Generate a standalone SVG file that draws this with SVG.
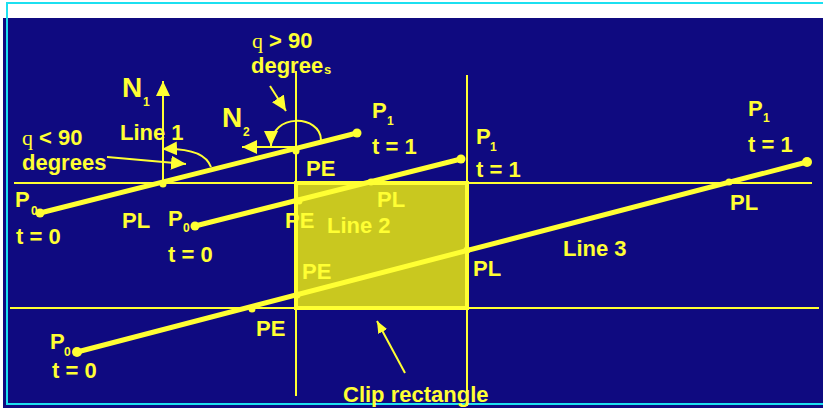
<svg xmlns="http://www.w3.org/2000/svg" width="823" height="408" viewBox="0 0 823 408">
  <defs>
    <style>
      .t { font-family: "Liberation Sans", Arial, sans-serif; font-weight: bold; font-size: 22px; fill: #FFFF33; }
      .sub { font-size: 12px; }
      .big { font-size: 28px; }
      .q { font-family: "Liberation Serif", "Times New Roman", serif; font-weight: normal; font-size: 22px; }
      .clip { stroke: #FFFF33; stroke-width: 2; fill: none; }
      .seg { stroke: #FFFF33; stroke-width: 5; fill: none; stroke-linecap: round; }
      .ptr { stroke: #FFFF33; stroke-width: 2; fill: none; }
      .end { fill: #FFFF33; }
    </style>
    <marker id="ah" markerUnits="userSpaceOnUse" markerWidth="16" markerHeight="14" refX="15" refY="7" orient="auto">
      <path d="M0,0 L15,7 L0,14 Z" fill="#FFFF33"/>
    </marker>
    <marker id="ahs" markerUnits="userSpaceOnUse" markerWidth="12" markerHeight="10" refX="12" refY="5" orient="auto">
      <path d="M0,0 L12,5 L0,10 Z" fill="#FFFF33"/>
    </marker>
  </defs>

  <!-- background and frame -->
  <rect x="0" y="0" width="823" height="408" fill="#FFFFFF"/>
  <rect x="3" y="18" width="820" height="390" fill="#0F0A80"/>
  <polyline points="823,3 7,3 7,404 823,404" fill="none" stroke="#1CE0F0" stroke-width="2"/>

  <!-- clip rectangle -->
  <g id="clip-rect">
    <rect x="296" y="183" width="171" height="125" fill="#C9C81F" stroke="#FFFF33" stroke-width="4"/>
    <line class="clip" x1="14" y1="183" x2="812" y2="183"/>
    <line class="clip" x1="10" y1="308" x2="819" y2="308"/>
    <line class="clip" x1="296" y1="71" x2="296" y2="396"/>
    <line class="clip" x1="467" y1="75" x2="467" y2="406"/>
  </g>

  <!-- connectors: segments, normals, angle arcs, pointers -->
  <g id="connectors">
    <line class="seg" x1="40" y1="213" x2="357" y2="133"/>
    <line class="seg" x1="195" y1="226" x2="461" y2="159"/>
    <line class="seg" x1="77" y1="352" x2="807" y2="162"/>

    <line class="ptr" x1="163" y1="183" x2="163" y2="81" marker-end="url(#ah)"/>
    <line class="ptr" x1="296" y1="147" x2="242" y2="147" marker-end="url(#ah)"/>

    <path class="ptr" d="M211,167 C206,153 188,148 162,149" marker-end="url(#ah)"/>
    <path class="ptr" d="M321,140 C321,115 271,112 271,146" marker-end="url(#ah)"/>

    <line class="ptr" x1="107" y1="157" x2="186" y2="164" marker-end="url(#ah)"/>
    <line class="ptr" x1="270" y1="86" x2="286" y2="111" marker-end="url(#ah)"/>
    <line class="ptr" x1="405" y1="373" x2="377" y2="321" marker-end="url(#ahs)"/>
  </g>

  <!-- endpoints and intersection points -->
  <g id="points">
    <circle class="end" cx="40" cy="213" r="4.5"/>
    <circle class="end" cx="357" cy="133" r="4.5"/>
    <circle class="end" cx="195" cy="226" r="4.5"/>
    <circle class="end" cx="461" cy="159" r="4.5"/>
    <circle class="end" cx="77" cy="352" r="5"/>
    <circle class="end" cx="807" cy="162" r="5"/>

    <circle class="end" cx="163" cy="184" r="3.5"/>
    <circle class="end" cx="296" cy="151" r="3.5"/>
    <circle class="end" cx="299" cy="201" r="3.5"/>
    <circle class="end" cx="371" cy="182" r="3.5"/>
    <circle class="end" cx="297" cy="295" r="3.5"/>
    <circle class="end" cx="252" cy="309" r="3.5"/>
    <circle class="end" cx="467" cy="250" r="3.5"/>
    <circle class="end" cx="729" cy="182" r="3.5"/>
  </g>

  <!-- labels -->
  <g id="labels">
    <text class="t" x="252" y="48"><tspan class="q">q</tspan> &gt; 90</text>
    <text class="t" x="251" y="73">degree</text>
    <text class="t" x="324" y="74" style="font-size:13px">s</text>

    <text class="t" x="22" y="145"><tspan class="q">q</tspan> &lt; 90</text>
    <text class="t" x="22" y="170">degrees</text>

    <text class="t big" x="122" y="97">N</text>
    <text class="t sub" x="143" y="106">1</text>
    <text class="t big" x="222" y="127">N</text>
    <text class="t sub" x="243" y="136">2</text>

    <text class="t" x="120" y="140">Line 1</text>
    <text class="t" x="327" y="233">Line 2</text>
    <text class="t" x="563" y="256">Line 3</text>

    <text class="t" x="15" y="207">P</text>
    <text class="t sub" x="31" y="215">0</text>
    <text class="t" x="16" y="244">t = 0</text>

    <text class="t" x="372" y="118">P</text>
    <text class="t sub" x="387" y="125">1</text>
    <text class="t" x="372" y="154">t = 1</text>

    <text class="t" x="168" y="226">P</text>
    <text class="t sub" x="183" y="232">0</text>
    <text class="t" x="168" y="262">t = 0</text>

    <text class="t" x="476" y="144">P</text>
    <text class="t sub" x="490" y="151">1</text>
    <text class="t" x="476" y="177">t = 1</text>

    <text class="t" x="50" y="349">P</text>
    <text class="t sub" x="64" y="356">0</text>
    <text class="t" x="52" y="378">t = 0</text>

    <text class="t" x="748" y="116">P</text>
    <text class="t sub" x="763" y="122">1</text>
    <text class="t" x="748" y="152">t = 1</text>

    <text class="t" x="306" y="176">PE</text>
    <text class="t" x="122" y="228">PL</text>
    <text class="t" x="285" y="228">PE</text>
    <text class="t" x="377" y="207">PL</text>
    <text class="t" x="302" y="279">PE</text>
    <text class="t" x="256" y="336">PE</text>
    <text class="t" x="473" y="276">PL</text>
    <text class="t" x="730" y="210">PL</text>

    <text class="t" x="343" y="402">Clip rectangle</text>
  </g>
</svg>
